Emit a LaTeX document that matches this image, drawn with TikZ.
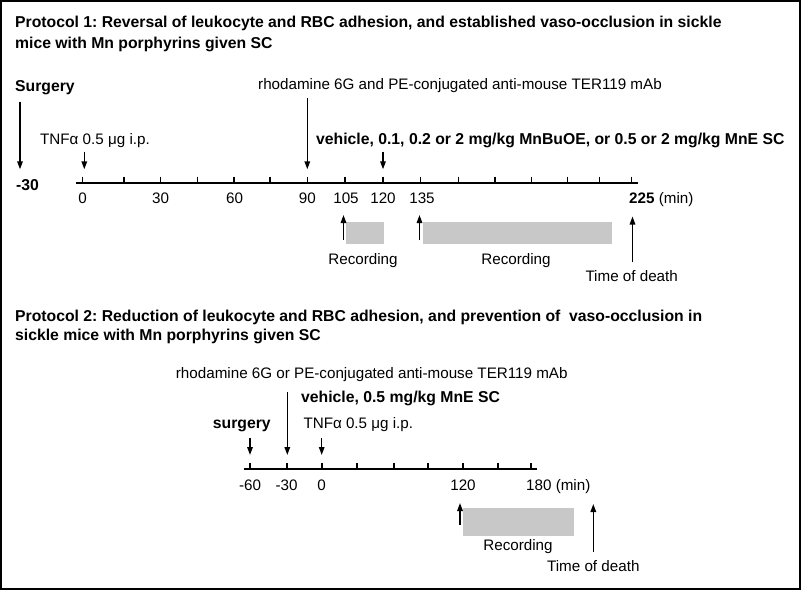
\documentclass[tikz,border=0pt]{standalone}
\usepackage{fontspec}
\setmainfont{Liberation Sans}
\usetikzlibrary{arrows.meta}
\definecolor{recgray}{RGB}{200,200,200}
\frenchspacing
\begin{document}
\begin{tikzpicture}[x=1pt,y=-1pt,
  lbl/.style={inner sep=0pt, font=\fontsize{15.2}{18}\selectfont},
  blbl/.style={inner sep=0pt, font=\fontsize{15.75}{18}\selectfont\bfseries},
  ttl/.style={inner sep=0pt, font=\fontsize{15.75}{18}\selectfont\bfseries, anchor=base west},
  arr/.style={-{Triangle[length=8pt,width=5.5pt]}, line width=1.5pt},
  axisln/.style={line width=2.2pt},
  tk/.style={line width=1.5pt},
  rec/.style={fill=recgray, draw=none, inner sep=0pt, anchor=north west}]
\useasboundingbox (0,0) rectangle (803,591);
\draw[line width=2pt] (1,1) rectangle (799.5,588.5);

% ---------------- Protocol 1 ----------------
\node[ttl] (t1a) at (15,27.8) {Protocol 1: Reversal of leukocyte and RBC adhesion, and established vaso-occlusion in sickle};
\node[ttl] (t1b) at (15,48.5) {mice with Mn porphyrins given SC};

\coordinate (p1L) at (76,183);
\coordinate (p1R) at (638,183);
\draw[axisln] (p1L) -- (p1R);
\foreach \x in {82.7,124,160.7,197.3,234,270,307.3,345,383,420.7,458.3,495,531.7,567.3,599.3,631.7}
  \draw[tk] (\x,176.5) -- (\x,183);

\node[blbl, anchor=base west] (surg1) at (15,92) {Surgery};
\node[blbl, anchor=base west] (m30) at (16,190.5) {-30};
\coordinate (s1a) at (20,101.7); \coordinate (s1b) at (20,169.3);
\draw[arr] (s1a) -- (s1b);

\node[lbl, anchor=base west] (tnf1) at (40,144.5) {TNFα 0.5 μg i.p.};
\coordinate (tn1a) at (84.3,151.7); \coordinate (tn1b) at (84.3,169.3);
\draw[arr] (tn1a) -- (tn1b);

\node[lbl, anchor=base west] (rho1) at (258,90) {rhodamine 6G and PE-conjugated anti-mouse TER119 mAb};
\coordinate (rh1a) at (307.3,98.3); \coordinate (rh1b) at (307.3,169.3);
\draw[arr] (rh1a) -- (rh1b);

\node[blbl, anchor=base west] (veh1) at (316,144.5) {vehicle, 0.1, 0.2 or 2 mg/kg MnBuOE, or 0.5 or 2 mg/kg MnE SC};
\coordinate (v1a) at (383,151.7); \coordinate (v1b) at (383,169.3);
\draw[arr] (v1a) -- (v1b);

\foreach \x/\t in {82.7/0, 160.7/30, 234.5/60, 307.3/90, 346/105, 383/120, 422/135}
  \node[lbl, anchor=base] at (\x,203.3) {\t};
\node[lbl, anchor=base west] (n225) at (629,203.3) {\textbf{225} (min)};

\node[rec, minimum width=37.3pt, minimum height=22.5pt] (r1) at (346,221.5) {};
\node[rec, minimum width=189.5pt, minimum height=22.5pt] (r2) at (422.3,221.5) {};
\coordinate (ra1) at (343.5,240); \coordinate (rb1) at (343.5,215);
\draw[arr] (ra1) -- (rb1);
\coordinate (ra2) at (419.5,240); \coordinate (rb2) at (419.5,215);
\draw[arr] (ra2) -- (rb2);
\node[lbl, anchor=base] (rt1) at (363,264) {Recording};
\node[lbl, anchor=base] (rt2) at (516,264) {Recording};

\coordinate (d1a) at (632.5,262); \coordinate (d1b) at (632.5,216.5);
\draw[arr] (d1a) -- (d1b);
\node[lbl, anchor=base] (td1) at (631.7,281.7) {Time of death};

% ---------------- Protocol 2 ----------------
\node[ttl] (t2a) at (15,321.7) {Protocol 2: Reduction of leukocyte and RBC adhesion, and prevention of\ \ vaso-occlusion in};
\node[ttl] (t2b) at (15,340) {sickle mice with Mn porphyrins given SC};

\node[lbl, anchor=base west] (rho2) at (175.7,378.3) {rhodamine 6G or PE-conjugated anti-mouse TER119 mAb};
\node[blbl, anchor=base west] (veh2) at (301,402.8) {vehicle, 0.5 mg/kg MnE SC};
\node[blbl, anchor=base] (surg2) at (241.8,428.5) {surgery};
\node[lbl, anchor=base west] (tnf2) at (303.3,428.5) {TNFα 0.5 μg i.p.};

\coordinate (p2L) at (244,469);
\coordinate (p2R) at (537,469);
\draw[axisln] (p2L) -- (p2R);
\foreach \x in {250,287,322,357,394,428,463,498,531}
  \draw[tk] (\x,463) -- (\x,469);

\coordinate (s2a) at (250,438.3); \coordinate (s2b) at (250,455);
\draw[arr] (s2a) -- (s2b);
\coordinate (rh2a) at (287.3,392.3); \coordinate (rh2b) at (287.3,455);
\draw[arr] (rh2a) -- (rh2b);
\coordinate (tn2a) at (321.7,438.3); \coordinate (tn2b) at (321.7,455);
\draw[arr] (tn2a) -- (tn2b);

\foreach \x/\t in {250/-60, 286.5/-30, 321.7/0, 463/120}
  \node[lbl, anchor=base] at (\x,490) {\t};
\node[lbl, anchor=base west] (n180) at (526,490) {180 (min)};

\node[rec, minimum width=111pt, minimum height=28pt] (r3) at (463,507.7) {};
\coordinate (ra3) at (460,525); \coordinate (rb3) at (460,503);
\draw[arr] (ra3) -- (rb3);
\node[lbl, anchor=base] (rt3) at (518,550.5) {Recording};

\coordinate (d2a) at (593.3,551.7); \coordinate (d2b) at (593.3,504);
\draw[arr] (d2a) -- (d2b);
\node[lbl, anchor=base] (td2) at (593.3,571.5) {Time of death};
\end{tikzpicture}
\end{document}
